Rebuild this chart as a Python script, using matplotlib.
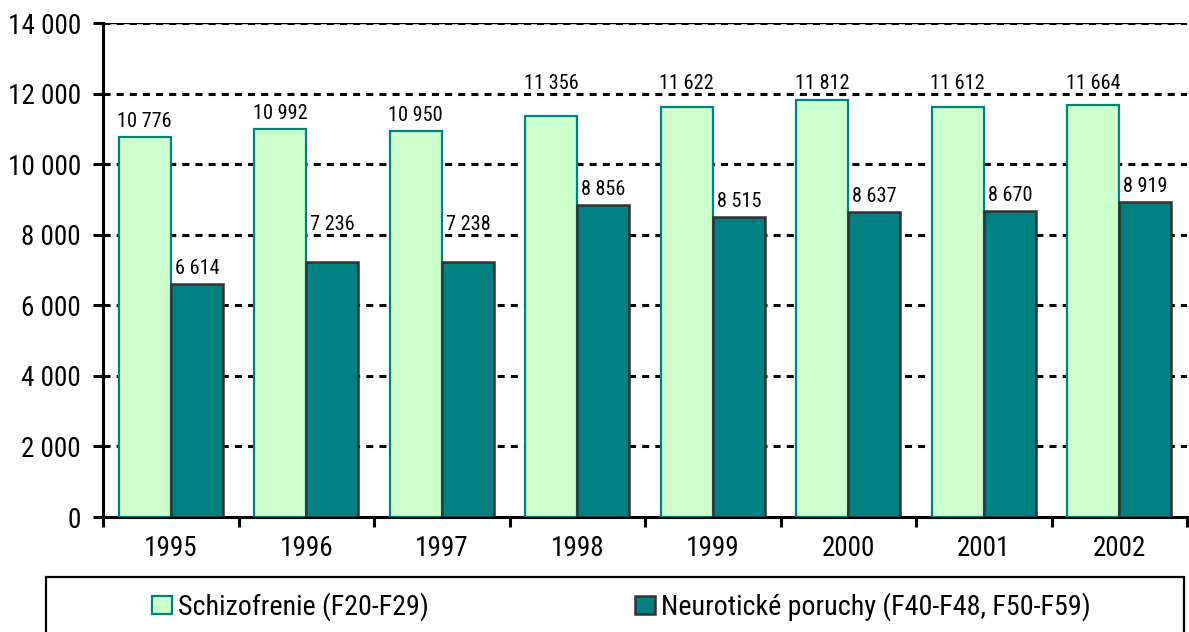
import matplotlib
matplotlib.use("Agg")
import matplotlib.pyplot as plt
import numpy as np
from matplotlib import font_manager as fm
from matplotlib.patches import Rectangle, Patch
from matplotlib.ticker import FuncFormatter

# narrow face if the system has one, else plain Arial-like sans at smaller size
have = {f.name for f in fm.fontManager.ttflist}
narrow = next((n for n in ['Liberation Sans Narrow', 'Arial Narrow', 'Roboto Condensed']
               if n in have), None)
if narrow:
    plt.rcParams['font.family'] = [narrow, 'Liberation Sans', 'DejaVu Sans']
    tick_fs, val_fs, legend_fs = 19.5, 14.6, 20.2
else:
    plt.rcParams['font.family'] = ['Liberation Sans', 'DejaVu Sans']
    tick_fs, val_fs, legend_fs = 17, 13.7, 17.4

years = ['1995', '1996', '1997', '1998', '1999', '2000', '2001', '2002']
schizo = [10776, 10992, 10950, 11356, 11622, 11812, 11612, 11664]
neuro = [6614, 7236, 7238, 8856, 8515, 8637, 8670, 8919]
names = ['Schizofrenie (F20-F29)', 'Neurotické poruchy (F40-F48, F50-F59)']

light = '#CCFFCC'
teal = '#008080'

fig = plt.figure(figsize=(11.89, 6.32), dpi=100)
ax = fig.add_axes([103 / 1189, 115 / 632, 1084 / 1189, 494 / 632])

x = np.arange(len(years))
w = 0.385
ax.bar(x - w / 2, schizo, w, color=light, edgecolor=teal, linewidth=1.6, zorder=3)
ax.bar(x + w / 2, neuro, w, color=teal, edgecolor='#333333', linewidth=1.8, zorder=3)

ax.set_xlim(-0.5, len(years) - 0.5)
ax.set_ylim(0, 14000)
ax.set_yticks(np.arange(0, 14001, 2000))
ax.yaxis.set_major_formatter(FuncFormatter(lambda v, p: f"{v:,.0f}".replace(",", " ")))

grid_vals = np.arange(2000, 14001, 2000)
for g in grid_vals:
    ax.axhline(g, color='black', lw=2.2, linestyle=(0, (2.3, 2.0)), zorder=1)
ax.axhline(14000, color='black', lw=1.0, zorder=1)

# x ticks at category boundaries, labels in the middle
ax.set_xticks(np.arange(-0.5, len(years)), minor=False)
ax.set_xticklabels([])
ax.set_xticks(x, minor=True)
ax.set_xticklabels(years, minor=True)
ax.tick_params(axis='x', which='major', direction='out', length=7.2, width=2.2)
ax.tick_params(axis='x', which='minor', length=0, pad=13, labelsize=tick_fs)
ax.tick_params(axis='y', direction='out', length=7, width=2.2, pad=9, labelsize=tick_fs)

for s in ['top', 'right']:
    ax.spines[s].set_visible(False)
for s in ['left', 'bottom']:
    ax.spines[s].set_linewidth(2.2)

# value labels, raised above a gridline when they would cross it
unit_px = 494 / 14000
off = 10 / unit_px
txt_h = 21 / unit_px
gap = 5 / unit_px


def label_y(v):
    y = v + off
    for g in grid_vals:
        if y - gap < g < y + txt_h:
            y = g + gap
    return y


for i in range(len(years)):
    for xpos, v in [(x[i] - w / 2, schizo[i]), (x[i] + w / 2, neuro[i])]:
        ax.text(xpos, label_y(v), f"{v:,}".replace(",", " "), ha='center', va='baseline',
                fontsize=val_fs, zorder=4)

# legend box
fig.patches.append(Rectangle((46 / 1189, -0.05), 1138 / 1189, 0.05 + 55 / 632,
                             transform=fig.transFigure, fill=False, edgecolor='black',
                             linewidth=1.6, clip_on=False))
h1 = Patch(facecolor=light, edgecolor=teal, linewidth=1.6)
h2 = Patch(facecolor=teal, edgecolor='#333333', linewidth=1.8)
kw = dict(frameon=False, fontsize=legend_fs, handlelength=0.71, handleheight=0.65,
          handletextpad=0.21, borderpad=0, borderaxespad=0, loc='center left')
fig.legend([h1], [names[0]], bbox_to_anchor=(152 / 1189, 25 / 632), **kw)
fig.legend([h2], [names[1]], bbox_to_anchor=(635 / 1189, 25 / 632), **kw)

fig.savefig('out.png', dpi=100)
